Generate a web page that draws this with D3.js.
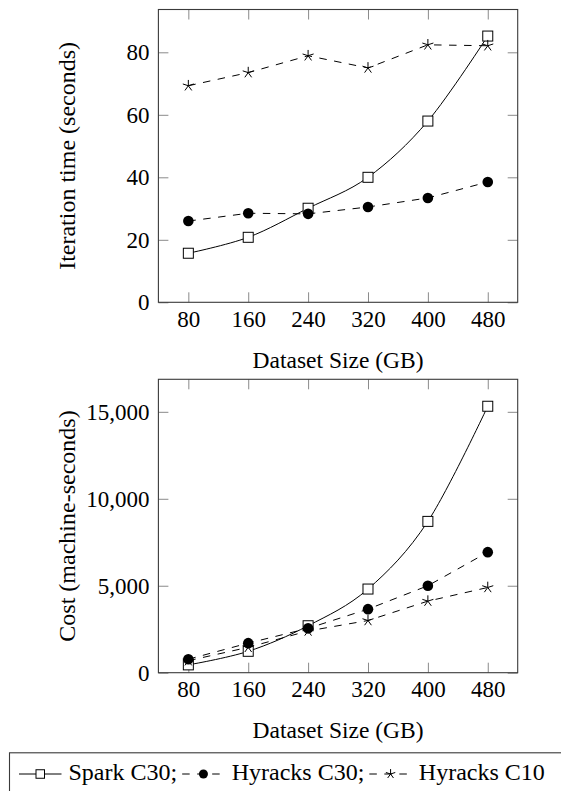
<!DOCTYPE html>
<html>
<head>
<meta charset="utf-8">
<script src="https://cdn.jsdelivr.net/npm/d3@7"></script>
<style>
  body { margin: 0; background: #fff; }
  svg { display: block; }
</style>
</head>
<body>
<div id="container"></div>
<script>
// dataset sizes (GB)
var sizes = [80, 160, 240, 320, 400, 480];

// iteration time (seconds)
var sparkTime    = [15.7, 20.8, 30.1, 40.0, 58.0, 85.2];
var hyracks30Time = [26.0, 28.5, 28.3, 30.5, 33.4, 38.5];
var hyracks10Time = [69.3, 73.5, 78.9, 75.0, 82.4, 82.1];

// cost (machine-seconds)
var sparkCost    = [450, 1230, 2700, 4810, 8700, 15320];
var hyracks30Cost = [775, 1700, 2550, 3655, 5000, 6930];
var hyracks10Cost = [690, 1460, 2400, 3000, 4115, 4900];

var timeTicks = [0, 20, 40, 60, 80];
var costTicks = [0, 5000, 10000, 15000];
var seriesNames = ["Spark C30;", "Hyracks C30;", "Hyracks C10"];

var font = "Liberation Serif";
var W = 561, H = 791;

var svg = d3.select("#container")
    .append("svg")
    .attr("width", W)
    .attr("height", H)
    .style("font-family", font);

var left = 158.4, right = 517.7;

var x = d3.scaleLinear()
    .domain([40, 520])
    .range([left, right]);

var series = [
    { name: seriesNames[0], mark: "square", dash: null,  curve: d3.curveCardinal.tension(0) },
    { name: seriesNames[1], mark: "circle", dash: "7.5,7.5", curve: d3.curveLinear },
    { name: seriesNames[2], mark: "star",   dash: "7.5,7.5", curve: d3.curveLinear }
];

function drawMark(g, type, cx, cy, s) {
    s = s || 1;
    if (type == "square") {
        g.append("rect")
            .attr("x", cx - 5 * s).attr("y", cy - 5 * s)
            .attr("width", 10 * s).attr("height", 10 * s)
            .attr("fill", "#fff")
            .attr("stroke", "#000")
            .attr("stroke-width", 1);
    } else if (type == "circle") {
        g.append("circle")
            .attr("cx", cx).attr("cy", cy).attr("r", 5.3 * s)
            .attr("fill", "#000");
    } else {
        var d = "";
        for (var k = 0; k < 5; k++) {
            var a = (-90 + k * 72) * Math.PI / 180;
            d += "M" + cx + "," + cy + "L" + (cx + 5.8 * s * Math.cos(a)) + "," + (cy + 5.8 * s * Math.sin(a));
        }
        g.append("path")
            .attr("d", d)
            .attr("stroke", "#000")
            .attr("stroke-width", 1)
            .attr("fill", "none");
    }
}

function makePanel(top, bottom, yMax, ticks, fmt, label, values) {
    var y = d3.scaleLinear()
        .domain([0, yMax])
        .range([bottom, top]);

    var g = svg.append("g");

    // axes with inward ticks, mirrored on top/right
    var xAxis = d3.axisBottom(x).tickValues(sizes).tickSize(-10).tickPadding(8);
    var yAxis = d3.axisLeft(y).tickValues(ticks).tickSize(-10).tickPadding(9).tickFormat(fmt);

    g.append("g")
        .attr("transform", "translate(0," + bottom + ")")
        .call(xAxis);
    g.append("g")
        .attr("transform", "translate(0," + top + ")")
        .call(d3.axisTop(x).tickValues(sizes).tickSize(-10).tickFormat(""));
    g.append("g")
        .attr("transform", "translate(" + left + ",0)")
        .call(yAxis);
    g.append("g")
        .attr("transform", "translate(" + right + ",0)")
        .call(d3.axisRight(y).tickValues(ticks).tickSize(-10).tickFormat(""));

    g.selectAll(".domain").remove();
    g.selectAll(".tick line").attr("stroke", "#8a8a8a").attr("stroke-width", 1);
    g.selectAll(".tick text")
        .style("font-family", font)
        .style("font-size", "23px")
        .attr("fill", "#000");

    g.append("rect")
        .attr("x", left).attr("y", top)
        .attr("width", right - left).attr("height", bottom - top)
        .attr("fill", "none")
        .attr("stroke", "#3a3a3a")
        .attr("stroke-width", 1.1);

    // lines and marks
    series.forEach(function(s, i) {
        var line = d3.line()
            .x(function(d, j) { return x(sizes[j]); })
            .y(function(d) { return y(d); })
            .curve(s.curve);
        g.append("path")
            .attr("d", line(values[i]))
            .attr("fill", "none")
            .attr("stroke", "#000")
            .attr("stroke-width", 1)
            .attr("stroke-dasharray", s.dash);
    });
    series.forEach(function(s, i) {
        values[i].forEach(function(d, j) {
            drawMark(g, s.mark, x(sizes[j]), y(d));
        });
    });

    // axis labels
    g.append("text")
        .attr("x", (left + right) / 2)
        .attr("y", bottom + 65.5)
        .attr("text-anchor", "middle")
        .style("font-family", font)
        .style("font-size", "23.5px")
        .text("Dataset Size (GB)");

    g.append("text")
        .attr("transform", "translate(75," + ((top + bottom) / 2) + ") rotate(-90)")
        .attr("text-anchor", "middle")
        .style("font-family", font)
        .style("font-size", "24px")
        .text(label);
}

makePanel(9.5, 302.3, 93.7, timeTicks, d3.format("d"), "Iteration time (seconds)",
    [sparkTime, hyracks30Time, hyracks10Time]);
makePanel(379.3, 672.7, 16870, costTicks, d3.format(","), "Cost (machine-seconds)",
    [sparkCost, hyracks30Cost, hyracks10Cost]);

// legend
var legend = svg.append("g");
legend.append("rect")
    .attr("x", 9.5).attr("y", 752.8)
    .attr("width", 620).attr("height", 80)
    .attr("fill", "#fff")
    .attr("stroke", "#3a3a3a")
    .attr("stroke-width", 1.1);

var lx = 19, ly = 774, imgW = 42.5;
series.forEach(function(s, i) {
    legend.append("path")
        .attr("d", "M" + lx + "," + ly + "H" + (lx + imgW))
        .attr("stroke", "#000")
        .attr("stroke-width", 1)
        .attr("stroke-dasharray", s.dash);
    drawMark(legend, s.mark, lx + imgW / 2, ly, 0.85);
    var t = legend.append("text")
        .attr("x", lx + imgW + 7)
        .attr("y", 780)
        .style("font-family", font)
        .style("font-size", "24px")
        .text(s.name);
    lx = lx + imgW + 7 + t.node().getComputedTextLength() + 5;
});
</script>
</body>
</html>
